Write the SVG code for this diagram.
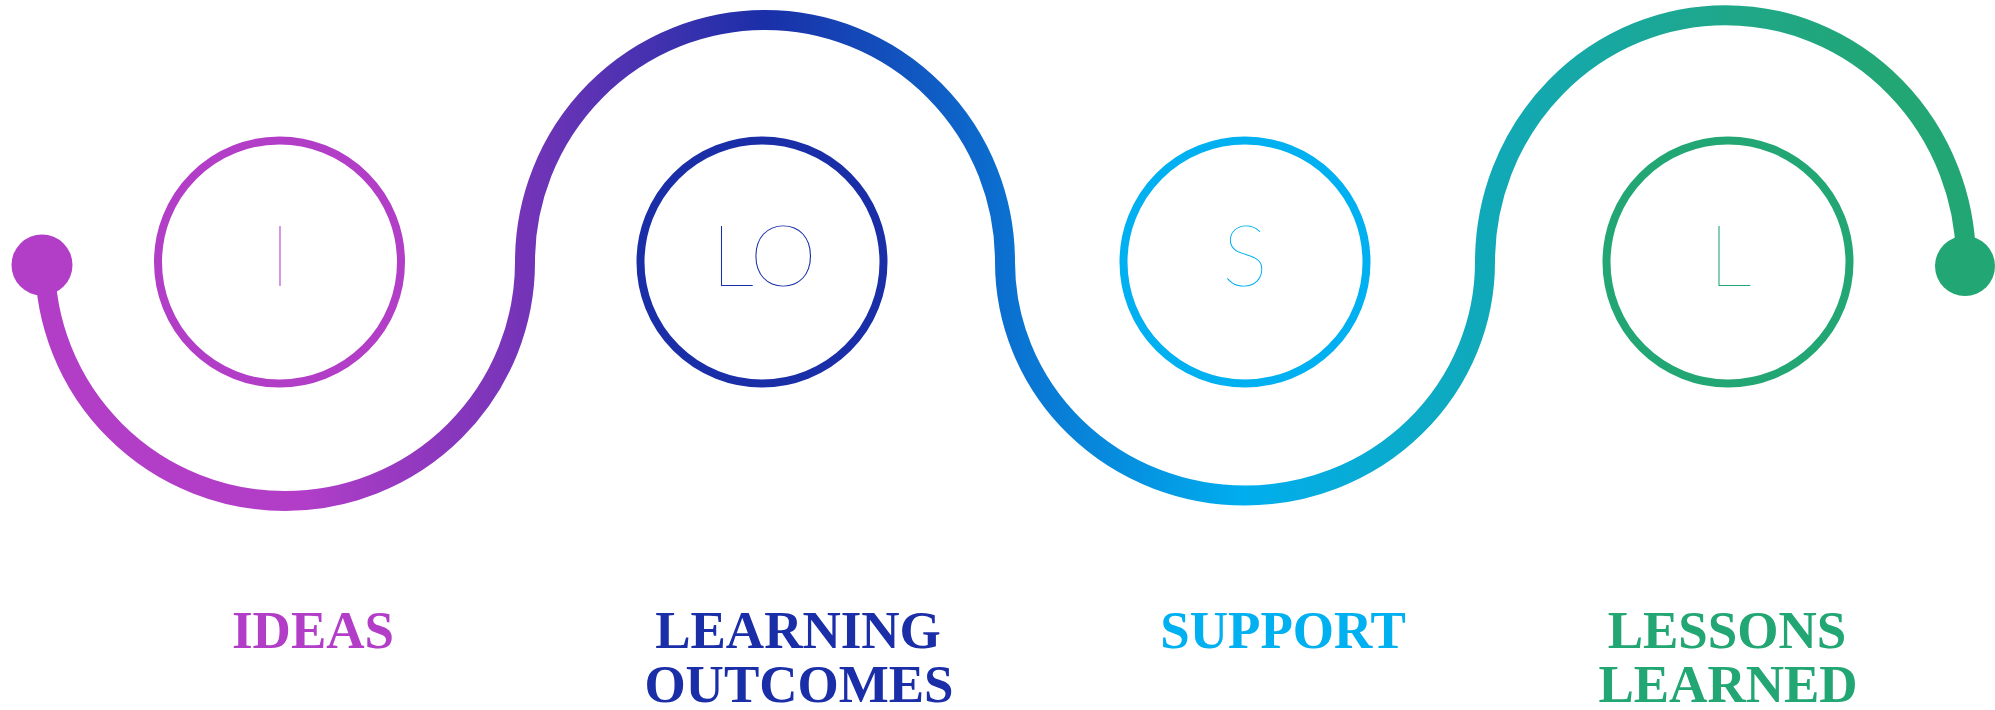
<svg xmlns="http://www.w3.org/2000/svg" width="1995" height="710" viewBox="0 0 1995 710">
<defs>
<linearGradient id="wave" gradientUnits="userSpaceOnUse" x1="0" y1="0" x2="1995" y2="0">
<stop offset="0" stop-color="#B23EC8"/>
<stop offset="0.15" stop-color="#B23EC8"/>
<stop offset="0.263" stop-color="#7434B8"/>
<stop offset="0.383" stop-color="#1A2FA8"/>
<stop offset="0.504" stop-color="#0B70D0"/>
<stop offset="0.624" stop-color="#00AEEE"/>
<stop offset="0.744" stop-color="#10A9B9"/>
<stop offset="0.865" stop-color="#1FA78A"/>
<stop offset="0.95" stop-color="#22A673"/>
<stop offset="1" stop-color="#22A673"/>
</linearGradient>
<style>
.ring{fill:none;stroke-width:8}
.letter{font-family:"Lato",Inter,"Open Sans",sans-serif;font-weight:100;font-size:86px;text-anchor:middle}
.title{font-family:"Liberation Serif","Times New Roman",serif;font-weight:bold;font-size:53px;text-anchor:middle}
</style>
</defs>
<g id="connectors">
<path d="M45 262 A240 239 0 0 0 525 262 A240 242 0 0 1 1005 262 A240 233.5 0 0 0 1485 262 A240.5 247 0 0 1 1966 262" fill="none" stroke="url(#wave)" stroke-width="20"/>
<circle cx="42" cy="265" r="30.5" fill="#B23EC8"/>
<circle cx="1965" cy="266" r="30" fill="#22A673"/>
</g>
<g id="node-ideas">
<circle class="ring" cx="279.5" cy="262" r="121.5" stroke="#B23EC8"/>
<text class="letter" x="280" y="286" fill="#B23EC8">I</text>
<text class="title" x="313" y="648" fill="#B23EC8">IDEAS</text>
</g>
<g id="node-learning-outcomes">
<circle class="ring" cx="762" cy="262" r="121.5" stroke="#1A2EA8"/>
<text class="letter" x="764" y="286" fill="#1A2EA8">LO</text>
<text class="title" x="798" y="648" fill="#1A2EA8">LEARNING</text>
<text class="title" x="799" y="702" fill="#1A2EA8">OUTCOMES</text>
</g>
<g id="node-support">
<circle class="ring" cx="1245" cy="262" r="121.5" stroke="#00B0F0"/>
<text class="letter" x="1245" y="286" fill="#00B0F0">S</text>
<text class="title" x="1283" y="648" fill="#00B0F0">SUPPORT</text>
</g>
<g id="node-lessons-learned">
<circle class="ring" cx="1728" cy="262" r="121.5" stroke="#22A673"/>
<text class="letter" x="1730" y="286" fill="#22A673">L</text>
<text class="title" x="1727" y="648" fill="#22A673">LESSONS</text>
<text class="title" x="1728" y="702" fill="#22A673">LEARNED</text>
</g>
</svg>
